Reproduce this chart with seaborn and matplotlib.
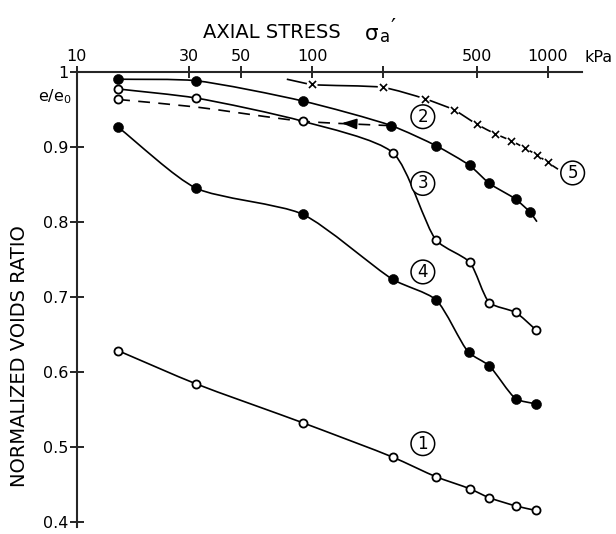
import numpy as np
import matplotlib
matplotlib.use("Agg")
import matplotlib.pyplot as plt
from matplotlib.path import Path
from matplotlib.patches import PathPatch
from matplotlib.ticker import FixedLocator, FixedFormatter, NullLocator
import seaborn as sns

# Axial stress steps (kPa) and normalized voids ratio e/e0 for each test
stress_1 = [15, 32, 91, 220, 335, 466, 564, 732, 890]
ratio_1 = [0.628, 0.584, 0.532, 0.486, 0.460, 0.444, 0.432, 0.421, 0.415]

stress_2 = [15, 32, 91, 217, 337, 466, 566, 731, 839]
ratio_2 = [0.990, 0.988, 0.961, 0.928, 0.901, 0.875, 0.851, 0.830, 0.813]
# curve 2 runs on a little past its last reading
stress_2_end, ratio_2_end = 900, 0.800

stress_3 = [15, 32, 91, 220, 337, 466, 566, 731, 890]
ratio_3 = [0.977, 0.965, 0.934, 0.892, 0.775, 0.746, 0.692, 0.679, 0.656]

# unloading branch (dashed) from 217 kPa back down to 15 kPa
stress_3u = [15, 32, 91, 217]
ratio_3u = [0.963, 0.953, 0.934, 0.928]

stress_4 = [15, 32, 91, 220, 335, 461, 564, 732, 890]
ratio_4 = [0.926, 0.845, 0.810, 0.723, 0.696, 0.626, 0.608, 0.564, 0.557]

stress_5 = [100, 200, 300, 400, 500, 600, 700, 800, 900, 1000]
ratio_5 = [0.983, 0.979, 0.964, 0.949, 0.930, 0.917, 0.908, 0.898, 0.889, 0.879]
stress_5_start, ratio_5_start = 78, 0.990
stress_5_end, ratio_5_end = 1106, 0.870

x_ticks = [10, 30, 50, 100, 200, 500, 1000]
x_tick_labels = ["10", "30", "50", "100", "", "500", "1000"]
y_ticks = [0.4, 0.5, 0.6, 0.7, 0.8, 0.9, 1.0]
y_tick_labels = ["0.4", "0.5", "0.6", "0.7", "0.8", "0.9", "1"]

curve_labels = ["1", "2", "3", "4", "5"]
label_stress = [295, 295, 295, 295, 1276]
label_ratio = [0.504, 0.940, 0.851, 0.733, 0.865]

sns.set_theme(style="ticks")
plt.rcParams["font.family"] = ["DejaVu Sans"]
plt.rcParams["mathtext.default"] = "regular"
plt.rcParams["lines.scale_dashes"] = False
plt.rcParams["axes.linewidth"] = 1.5
plt.rcParams["text.color"] = "black"
plt.rcParams["xtick.color"] = "black"
plt.rcParams["ytick.color"] = "black"

fig = plt.figure(figsize=(6.16, 5.34), dpi=100)
ax = fig.add_axes([0.1245, 0.0131, 0.8198, 0.8526])
ax.set_xscale("log")
ax.set_xlim(10, 1394)
ax.set_ylim(0.3929, 1.0)

LW = 1.2
# relative screen size of one decade of stress vs one unit of e/e0,
# so the spline is shaped in (roughly) square screen space
DECADE, UNIT = 235.5, 750.0
TENSION = 0.7  # <1 pulls the curve closer to straight runs between points


def smooth_path(xs, ys):
    """Centripetal Catmull-Rom curve through the points, as cubic Bezier segments."""
    P = np.column_stack([np.log10(np.asarray(xs, float)) * DECADE,
                         np.asarray(ys, float) * UNIT])
    ext = np.vstack([2 * P[0] - P[1], P, 2 * P[-1] - P[-2]])
    verts = [P[0]]
    codes = [Path.MOVETO]
    for i in range(1, len(ext) - 2):
        p0, p1, p2, p3 = ext[i - 1], ext[i], ext[i + 1], ext[i + 2]
        t0 = 0.0
        t1 = t0 + np.linalg.norm(p1 - p0) ** 0.5
        t2 = t1 + np.linalg.norm(p2 - p1) ** 0.5
        t3 = t2 + np.linalg.norm(p3 - p2) ** 0.5
        m1 = (p1 - p0) / (t1 - t0) - (p2 - p0) / (t2 - t0) + (p2 - p1) / (t2 - t1)
        m2 = (p2 - p1) / (t2 - t1) - (p3 - p1) / (t3 - t1) + (p3 - p2) / (t3 - t2)
        dt = TENSION * (t2 - t1) / 3.0
        verts += [p1 + m1 * dt, p2 - m2 * dt, p2]
        codes += [Path.CURVE4] * 3
    verts = np.array(verts)
    verts[:, 0] = 10 ** (verts[:, 0] / DECADE)
    verts[:, 1] = verts[:, 1] / UNIT
    return Path(verts, codes)


def draw_curve(xs, ys, ls="-"):
    patch = PathPatch(smooth_path(xs, ys), fill=False, edgecolor="black",
                      linewidth=LW, linestyle=ls, zorder=2, capstyle="butt")
    ax.add_patch(patch)


def draw_points(xs, ys, filled):
    if filled:
        sns.scatterplot(x=xs, y=ys, ax=ax, marker="o", s=52, color="black",
                        edgecolor="black", linewidth=0.4, zorder=5, legend=False)
    else:
        sns.scatterplot(x=xs, y=ys, ax=ax, marker="o", s=34, facecolor="white",
                        edgecolor="black", linewidth=1.3, zorder=5, legend=False)


# curve 1
draw_curve(stress_1, ratio_1)
draw_points(stress_1, ratio_1, filled=False)

# curve 2
draw_curve(stress_2 + [stress_2_end], ratio_2 + [ratio_2_end])
draw_points(stress_2, ratio_2, filled=True)

# curve 3 with its dashed unloading branch
draw_curve(stress_3, ratio_3)
draw_points(stress_3, ratio_3, filled=False)
draw_curve(stress_3u, ratio_3u, ls=(0, (8.5, 6.0)))
draw_points(stress_3u[:1], ratio_3u[:1], filled=False)

# arrow head on the unloading branch, pointing back toward low stress
ua, ub = np.log10(stress_3u[-2]), np.log10(stress_3u[-1])


def along(f):
    return 10 ** (ua + f * (ub - ua)), ratio_3u[-2] + f * (ratio_3u[-1] - ratio_3u[-2])


ax.annotate("", xy=along(0.44), xytext=along(0.60),
            arrowprops=dict(arrowstyle="-|>,head_length=0.9,head_width=0.32",
                            color="black", lw=LW, shrinkA=0, shrinkB=0,
                            mutation_scale=10), zorder=4)

# curve 4
draw_curve(stress_4, ratio_4)
draw_points(stress_4, ratio_4, filled=True)

# curve 5: line broken around each cross
draw_curve([stress_5_start] + stress_5 + [stress_5_end],
           [ratio_5_start] + ratio_5 + [ratio_5_end])
sns.scatterplot(x=stress_5, y=ratio_5, ax=ax, marker="o", s=60, color="white",
                edgecolor="none", linewidth=0, zorder=3, legend=False)
sns.scatterplot(x=stress_5, y=ratio_5, ax=ax, marker="x", s=26, color="black",
                linewidth=1.2, zorder=4, legend=False)

# circled curve numbers
for lab, xs, ys in zip(curve_labels, label_stress, label_ratio):
    ax.text(xs, ys, lab, ha="center", va="center", fontsize=12, zorder=6,
            bbox=dict(boxstyle="circle,pad=0.17", fc="white", ec="black", lw=1.1))

# axes: stress axis along the top, ratio axis on the left
for side in ("right", "bottom"):
    ax.spines[side].set_visible(False)
ax.xaxis.tick_top()
ax.xaxis.set_major_locator(FixedLocator(x_ticks))
ax.xaxis.set_major_formatter(FixedFormatter(x_tick_labels))
ax.xaxis.set_minor_locator(NullLocator())
ax.yaxis.set_major_locator(FixedLocator(y_ticks))
ax.yaxis.set_major_formatter(FixedFormatter(y_tick_labels))
ax.tick_params(axis="x", which="major", direction="inout", length=8.5, width=1.2,
               pad=1, labelsize=11.5)
ax.tick_params(axis="y", which="major", direction="inout", length=9.5, width=1.2,
               pad=1, labelsize=11.5)
ax.set_xlabel("")
ax.set_ylabel("")
ax.set_facecolor("white")
fig.patch.set_facecolor("white")

# axis titles: sigma with its subscript and prime set as separate pieces
fig.text(203 / 616, 1 - 38.3 / 534, "AXIAL STRESS",
         ha="left", va="baseline", fontsize=14)
fig.text(365 / 616, 1 - 40 / 534, "σ", ha="left", va="baseline", fontsize=15.5)
fig.text(380 / 616, 1 - 42.5 / 534, "a", ha="left", va="baseline", fontsize=12)
fig.text(391 / 616, 1 - 34 / 534, "′", ha="left", va="baseline", fontsize=16)
fig.text(585 / 616, 1 - 62 / 534, "kPa", ha="left", va="baseline", fontsize=11.5)
fig.text(72 / 616, 1 - 101.7 / 534, r"e/e$_0$", ha="right", va="baseline", fontsize=11.5)
fig.text(20 / 616, 1 - 356 / 534, "NORMALIZED VOIDS RATIO", rotation=90,
         ha="center", va="center", fontsize=14)

fig.savefig("out.png", dpi=100, facecolor="white")
